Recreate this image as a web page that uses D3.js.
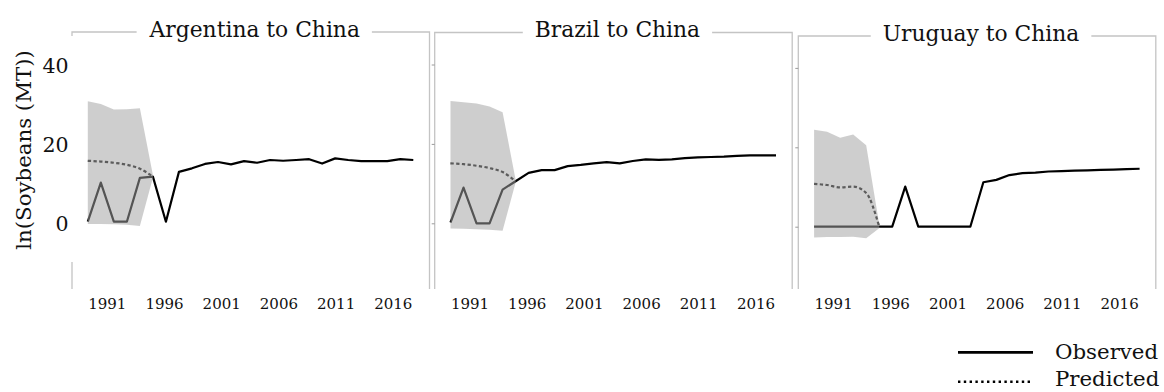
<!DOCTYPE html>
<html>
<head>
<meta charset="utf-8">
<script src="https://cdn.jsdelivr.net/npm/d3@7"></script>
<style>
  html, body { margin: 0; padding: 0; background: #fff; }
  svg { display: block; }
  text { font-family: "DejaVu Serif", "Liberation Serif", serif; fill: #111; }
</style>
</head>
<body>
<svg id="chart" width="1164" height="392"></svg>
<script>
// Yearly observations, 26 per exporter
const years = [1990, 1991, 1992, 1993, 1994, 1995, 1996, 1997, 1998, 1999, 2000, 2001, 2002,
               2003, 2004, 2005, 2006, 2007, 2008, 2009, 2010, 2011, 2012, 2013, 2014, 2015];
const predYears = [1990, 1991, 1992, 1993, 1994, 1995];
const tickLabels = ["1991", "1996", "2001", "2006", "2011", "2016"];
const yTicks = [0, 20, 40];
const titles = ["Argentina to China", "Brazil to China", "Uruguay to China"];
const legendLabels = ["Observed", "Predicted"];

// ln(Soybeans (MT)) observed
const argentinaObserved = [0.45, 10.3, 0.45, 0.45, 11.5, 11.8, 0.45, 13.0, 13.9, 15.0, 15.5, 14.9, 15.7,
                           15.3, 16.0, 15.8, 16.0, 16.2, 15.1, 16.4, 16.0, 15.7, 15.7, 15.7, 16.2, 16.0];
const brazilObserved = [0.2, 9.0, 0.0, 0.0, 8.5, 10.6, 12.7, 13.4, 13.4, 14.4, 14.7, 15.1, 15.4,
                        15.1, 15.7, 16.1, 16.0, 16.1, 16.4, 16.6, 16.7, 16.8, 17.0, 17.1, 17.1, 17.1];
const uruguayObserved = [0.0, 0.0, 0.0, 0.0, 0.0, 0.0, 0.0, 10.1, 0.0, 0.0, 0.0, 0.0, 0.0,
                         11.2, 11.8, 13.0, 13.5, 13.6, 13.9, 14.0, 14.1, 14.2, 14.3, 14.4, 14.5, 14.6];

// Predicted values and interval bounds, 1990-1995
const argentinaPredicted = [15.8, 15.6, 15.3, 14.8, 13.8, 11.8];
const argentinaUpper = [30.8, 30.1, 28.7, 28.8, 29.0, 12.2];
const argentinaLower = [-0.1, -0.1, -0.2, -0.3, -0.6, 11.5];

const brazilPredicted = [15.1, 14.9, 14.5, 13.9, 12.9, 10.6];
const brazilUpper = [30.8, 30.5, 30.2, 29.4, 28.0, 11.0];
const brazilLower = [-1.3, -1.4, -1.5, -1.6, -1.9, 10.3];

const uruguayPredicted = [10.8, 10.5, 9.9, 10.1, 8.5, 0.0];
const uruguayUpper = [24.4, 23.9, 22.4, 23.2, 20.5, 0.6];
const uruguayLower = [-2.7, -2.6, -2.6, -2.5, -2.9, -0.4];

const panels = [
  { title: titles[0], observed: argentinaObserved, predicted: argentinaPredicted, upper: argentinaUpper, lower: argentinaLower },
  { title: titles[1], observed: brazilObserved, predicted: brazilPredicted, upper: brazilUpper, lower: brazilLower },
  { title: titles[2], observed: uruguayObserved, predicted: uruguayPredicted, upper: uruguayUpper, lower: uruguayLower }
];

// Layout
const frameLeft = [72, 434.7, 798.3];
const frameWidth = 357.5;
const frameTop = [32, 32.5, 36];
const frameBottom = 289;
const zeroY = [223.5, 223.3, 226.7];
const pxPerUnit = 3.97;
const dataInset = 15.8;
const dataSpan = 325.5;

const svg = d3.select("#chart");
const frameColor = "#c4c4c4";

panels.forEach((p, i) => {
  const left = frameLeft[i];
  const right = left + frameWidth;
  const top = frameTop[i];
  const g = svg.append("g");

  const x = d3.scalePoint().domain(years).range([left + dataInset, left + dataInset + dataSpan]);
  const y = d3.scaleLinear().domain([0, 40]).range([zeroY[i], zeroY[i] - 40 * pxPerUnit]);
  const xLab = d3.scalePoint().domain(tickLabels)
    .range([left + dataInset + 19, left + dataInset + 305]);

  // frame
  g.append("path")
    .attr("d", `M${left},${frameBottom}V${top}H${right}V${frameBottom}`)
    .attr("fill", "none").attr("stroke", frameColor).attr("stroke-width", 1.3);

  // title with white backing that breaks the frame's top edge
  const t = g.append("text")
    .attr("x", left + frameWidth / 2 + 4)
    .attr("y", top + 4.5)
    .attr("text-anchor", "middle")
    .attr("font-size", 21.8)
    .text(p.title);
  const bb = t.node().getBBox();
  g.insert("rect", "text")
    .attr("x", bb.x - 12).attr("y", top - 4)
    .attr("width", bb.width + 24).attr("height", 8)
    .attr("fill", "#fff");

  // y axis
  if (i === 0) {
    g.append("rect").attr("x", 6).attr("y", 36).attr("width", 68).attr("height", 226).attr("fill", "#fff");
    const ya = g.append("g")
      .attr("transform", `translate(${left - 3.5},0)`)
      .call(d3.axisLeft(y).tickValues(yTicks).tickSize(0).tickPadding(0).tickFormat(d3.format("d")));
    ya.select(".domain").remove();
    ya.selectAll("text").attr("font-size", 20.5).attr("font-family", "DejaVu Serif").attr("fill", "#111")
      .attr("dy", "0.36em");
  } else {
    const ya = g.append("g")
      .attr("transform", `translate(${left},0)`)
      .call(d3.axisLeft(y).tickValues(yTicks).tickSize(3).tickFormat(""));
    ya.select(".domain").remove();
    ya.selectAll("line").attr("stroke", "#9a9a9a").attr("stroke-width", 1);
  }

  // x axis labels
  const xa = g.append("g")
    .attr("transform", `translate(0,${frameBottom + 8})`)
    .call(d3.axisBottom(xLab).tickSize(0).tickPadding(0));
  xa.select(".domain").remove();
  xa.selectAll("text").attr("font-size", 15).attr("font-family", "DejaVu Serif").attr("fill", "#111")
    .attr("dy", "0.78em");

  // observed
  const obsLine = d3.line().x((d, k) => x(years[k])).y(d => y(d));
  g.append("path").attr("d", obsLine(p.observed))
    .attr("fill", "none").attr("stroke", "#000").attr("stroke-width", 2.2)
    .attr("stroke-linejoin", "round");

  // predicted
  const predLine = d3.line().x((d, k) => x(predYears[k])).y(d => y(d)).curve(d3.curveMonotoneX);
  g.append("path").attr("d", predLine(p.predicted))
    .attr("fill", "none").attr("stroke", "#111").attr("stroke-width", 2.2)
    .attr("stroke-dasharray", "3.3,2.4");

  // prediction interval band
  const band = d3.area()
    .x((d, k) => x(predYears[k]))
    .y0((d, k) => y(p.lower[k]))
    .y1((d, k) => y(p.upper[k]));
  g.append("path").attr("d", band(p.upper))
    .attr("fill", "#a2a2a2").attr("fill-opacity", 0.52);
});

// y axis title
svg.append("text")
  .attr("transform", "translate(23,150) rotate(-90)")
  .attr("text-anchor", "middle")
  .attr("dominant-baseline", "central")
  .attr("font-size", 21.3)
  .text("ln(Soybeans (MT))");

// legend
const legend = svg.append("g");
const legendY = [352.3, 381.7];
legend.selectAll("line").data(legendLabels).join("line")
  .attr("x1", 958).attr("x2", (d, k) => k === 0 ? 1033 : 1031)
  .attr("y1", (d, k) => legendY[k]).attr("y2", (d, k) => legendY[k])
  .attr("stroke", "#000")
  .attr("stroke-width", (d, k) => k === 0 ? 2.8 : 2.6)
  .attr("stroke-dasharray", (d, k) => k === 0 ? null : "2.4,3.4");
legend.selectAll("text").data(legendLabels).join("text")
  .attr("x", 1055)
  .attr("y", (d, k) => [359.3, 386][k])
  .attr("font-size", 21.3)
  .text(d => d);
</script>
</body>
</html>
